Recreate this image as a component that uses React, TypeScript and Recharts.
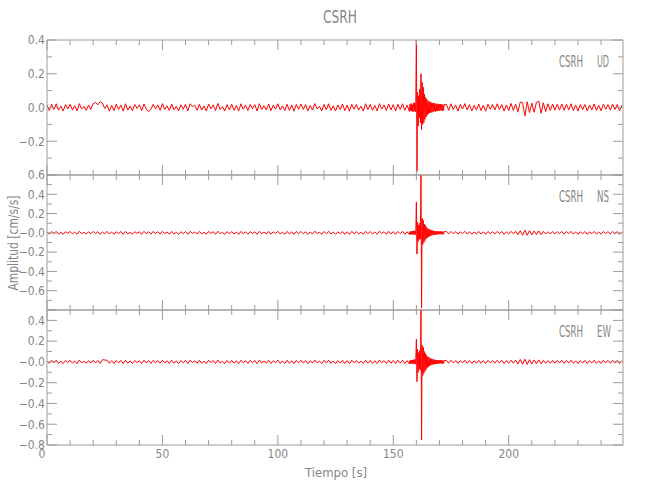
import { LineChart, Line, XAxis, YAxis } from 'recharts'

// amplitudes are in 0.001 cm/s/s
// pre: 0..157 s every 1 s, event: 157.25..172 s every 0.25 s, post: 173..249 s every 1 s
const udPre = [
  14, -18, 20, -12, 22, -16, 9, -21, 17, -8,
  19, -14, 11, -20, 23, -9, 7, -17, 15, -11,
  22, 30, 16, 34, 26, -6, 16, -22, 12, -18,
  20, -12, 14, -21, 22, -15, 8, -19, 18, -6,
  16, -19, 21, -10, -24, -12, 19, -8, 15, -17,
  23, -12, 10, -18, 21, -14, 7, -21, 16, -10,
  18, -20, 22, 6, 12, -17, 19, -15, 9, -21,
  21, -8, 15, -18, 24, -12, 5, -20, 17, -14,
  19, -17, 12, -21, 22, -10, 14, -18, 18, -7,
  17, -21, 23, -12, 10, -15, 20, -19, 13, -9,
  22, -14, 9, -18, 19, -17, 15, -22, 18, -10,
  21, -12, 17, -20, 12, -15, 23, -9, 7, -21,
  18, -13, 22, -17, 10, -20, 15, -12, 21, -18,
  14, -22, 19, -10, 17, -15, 8, -21, 22, -12,
  18, -17, 12, -20, 23, -9, 15, -18, 21, -14,
  17, -21, 19, -12, 22, -17, 14, -23,
]
const udEvent = [
  20, -18, 24, -22, 17, -25, 27, -20, 28, -26,
  32, 450, -380, 90, -110, 70, -60, 110, -90, 200,
  -130, 150, -100, 120, -90, 80, -70, 60, -55, 50,
  -45, 40, -38, 35, -32, 34, -30, 28, -29, 26,
  -25, 27, -22, 24, -25, 21, -20, 23, -21, 19,
  -20, 19, -18, 21, -17, 18, -19, 17, -18, 16,
]
const udPost = [
  19, -17, 22, -12, 15, -21, 18, -9, 23, -14,
  17, -20, 12, -15, 21, -18, 14, -22, 19, -10,
  18, -15, 22, -12, 17, -21, 15, -18, 24, -17,
  20, -26, 32, 28, -50, 34, -30, 26, -28, 30,
  38, -34, 28, -24, 22, -18, 20, -16, 19, -15,
  21, -17, 19, -15, 22, -18, 14, -21, 17, -12,
  18, -20, 15, -14, 21, -17, 12, -19, 20, -10,
  17, -15, 21, -12, 18, -20, 14,
]

const nsPre = [
  10, -13, 14, -8, 15, -13, 6, -15, 12, -5,
  14, -11, 8, -15, 16, -7, 5, -12, 11, -9,
  15, -9, 12, -14, 8, -11, 16, -12, 9, -15,
  12, -8, 14, -16, 15, -11, 6, -14, 12, -5,
  11, -15, 16, -9, 12, -14, 15, -6, 11, -12,
  16, -8, 9, -14, 15, -11, 6, -16, 12, -8,
  14, -15, 16, -5, 9, -12, 15, -11, 6, -15,
  15, -6, 12, -14, 17, -9, 5, -15, 13, -11,
  14, -12, 9, -16, 15, -8, 11, -14, 12, -6,
  12, -16, 17, -9, 8, -11, 15, -14, 11, -6,
  16, -11, 6, -14, 15, -12, 11, -16, 14, -8,
  15, -9, 12, -15, 9, -11, 17, -6, 5, -15,
  14, -9, 16, -12, 8, -15, 11, -9, 15, -14,
  11, -16, 15, -8, 12, -11, 6, -15, 16, -9,
  14, -12, 9, -15, 17, -6, 11, -14, 16, -11,
  12, -15, 15, -9, 16, -14, 11, -17,
]
const nsEvent = [
  14, -16, 18, -15, 17, -19, 20, -16, 22, -21,
  26, 320, -220, 110, -90, 80, -70, 100, -60, 620,
  -780, 150, -120, 130, -100, 90, -80, 75, -60, 55,
  -50, 45, -40, 38, -35, 32, -30, 28, -26, 24,
  -22, 21, -20, 19, -18, 18, -17, 16, -16, 15,
  -15, 14, -14, 15, -13, 14, -15, 13, -14, 12,
]
const nsPost = [
  14, -11, 15, -9, 12, -14, 11, -8, 15, -12,
  12, -14, 9, -11, 15, -12, 11, -15, 14, -8,
  12, -11, 15, -9, 14, -15, 11, -12, 16, -11,
  16, -19, 22, -24, 28, -25, 23, -21, 19, -18,
  20, -17, 15, -13, 12, -12, 14, -11, 13, -10,
  15, -12, 14, -10, 16, -13, 9, -15, 12, -9,
  14, -15, 11, -9, 15, -12, 9, -14, 15, -8,
  12, -11, 15, -9, 14, -15, 11,
]

const ewPre = [
  11, -14, 16, -9, 17, -15, 8, -16, 14, -6,
  15, -12, 9, -16, 18, -8, 6, -13, 12, -10,
  16, -11, 14, -15, 22, 18, 17, -13, 11, -16,
  14, -9, 15, -17, 16, -12, 8, -15, 14, -6,
  12, -16, 17, -10, 14, -15, 16, -8, 12, -13,
  17, -9, 11, -15, 16, -12, 8, -17, 14, -9,
  15, -16, 17, -6, 11, -13, 16, -12, 8, -16,
  16, -8, 14, -15, 18, -11, 6, -16, 15, -12,
  15, -13, 11, -17, 16, -9, 12, -15, 14, -8,
  14, -17, 18, -10, 9, -12, 16, -15, 12, -8,
  17, -12, 8, -15, 16, -14, 12, -17, 15, -9,
  16, -11, 14, -16, 11, -12, 18, -8, 6, -16,
  15, -11, 17, -14, 9, -16, 12, -11, 16, -15,
  12, -17, 16, -9, 14, -12, 8, -16, 17, -11,
  15, -14, 11, -16, 18, -8, 12, -15, 17, -12,
  14, -16, 16, -11, 17, -15, 12, -18,
]
const ewEvent = [
  15, -17, 19, -16, 18, -20, 21, -18, 23, -22,
  28, 220, -190, 120, -100, 90, -70, 110, -80, 520,
  -750, 160, -130, 140, -110, 100, -90, 80, -70, 60,
  -55, 50, -45, 42, -38, 35, -32, 30, -28, 26,
  -25, 23, -22, 21, -20, 19, -18, 18, -17, 16,
  -16, 15, -15, 16, -14, 15, -16, 14, -15, 13,
]
const ewPost = [
  15, -12, 16, -10, 13, -15, 12, -9, 16, -13,
  13, -15, 10, -12, 16, -13, 12, -16, 15, -9,
  13, -12, 16, -10, 15, -16, 12, -13, 17, -12,
  18, -21, 24, -22, 26, -24, 22, -20, 19, -18,
  20, -17, 15, -14, 13, -13, 15, -12, 14, -11,
  16, -13, 14, -11, 17, -14, 10, -16, 13, -10,
  15, -16, 12, -10, 16, -13, 10, -15, 16, -9,
  13, -12, 16, -10, 15, -16, 12,
]

const xTicks = [0, 10, 20, 30, 40, 50, 60, 70, 80, 90, 100, 110, 120, 130, 140, 150, 160, 170, 180, 190, 200, 210, 220, 230, 240]
const xLabels = [0, 50, 100, 150, 200]

const udTicks = [-0.4, -0.3, -0.2, -0.1, 0, 0.1, 0.2, 0.3, 0.4]
const udLabels = [0.4, 0.2, 0, -0.2]
const nsTicks = [-0.8, -0.7, -0.6, -0.5, -0.4, -0.3, -0.2, -0.1, 0, 0.1, 0.2, 0.3, 0.4, 0.5, 0.6]
const nsLabels = [0.6, 0.4, 0.2, 0, -0.2, -0.4, -0.6]
const ewTicks = [-0.8, -0.7, -0.6, -0.5, -0.4, -0.3, -0.2, -0.1, 0, 0.1, 0.2, 0.3, 0.4, 0.5]
const ewLabels = [0.4, 0.2, 0, -0.2, -0.4, -0.6, -0.8]

const X_MAX = 249.5
const PRE_STEP = 1
const EVENT_STEP = 0.25

const FONT = "'Liberation Sans Narrow', 'DejaVu Sans Condensed', 'Roboto Condensed', sans-serif"
const AXIS = '#9c9c9c'
const TEXT = '#868686'
const RED = '#ff0000'

const PANEL_H = 135

function buildSeries(pre: number[], event: number[], post: number[]) {
  const rows: { t: number; v: number }[] = []
  pre.forEach((v, i) => rows.push({ t: i * PRE_STEP, v: v / 1000 }))
  const evStart = (pre.length - 1) * PRE_STEP + EVENT_STEP
  event.forEach((v, i) => rows.push({ t: evStart + i * EVENT_STEP, v: v / 1000 }))
  const postStart = evStart + (event.length - 1) * EVENT_STEP + PRE_STEP
  post.forEach((v, i) => rows.push({ t: postStart + i * PRE_STEP, v: v / 1000 }))
  return rows
}

const fmtY = (v: number, negZero: boolean) => {
  if (Math.abs(v) < 1e-9) return negZero ? '\u22120.0' : '0.0'
  return (v < 0 ? '\u2212' : '') + Math.abs(v).toFixed(1)
}

const isMajorY = (v: number) => Math.round(v * 10) % 2 === 0
const hasVal = (list: number[], v: number) => list.some(l => Math.abs(l - v) < 1e-6)

const txt = { fontFamily: FONT, fill: TEXT }

interface PanelProps {
  top: number
  rows: { t: number; v: number }[]
  domain: [number, number]
  ticks: number[]
  labels: number[]
  negZero: boolean
  name: string
  comp: string
  compWidth: number
  bottom?: boolean
}

function Panel({ top, rows, domain, ticks, labels, negZero, name, comp, compWidth, bottom }: PanelProps) {
  const extra = bottom ? 30 : 0
  return (
    <div style={{ position: 'absolute', left: 0, top: top - 10 }}>
      <LineChart
        width={650}
        height={PANEL_H + 20 + extra}
        data={rows}
        margin={{ top: 9, right: 26, bottom: 9 + extra, left: 7 }}
      >
        <XAxis
          xAxisId="b"
          dataKey="t"
          type="number"
          domain={[0, X_MAX]}
          ticks={xTicks}
          interval={0}
          height={1}
          tickSize={0}
          tickMargin={0}
          tickLine={false}
          axisLine={{ stroke: AXIS }}
          allowDataOverflow
          tick={(p: any) => {
            const v = p.payload.value
            const major = v % 50 === 0
            return (
              <g key={`xb${v}`}>
                <line x1={p.x} x2={p.x} y1={p.y} y2={p.y - (major ? 10 : 5)} stroke={AXIS} />
                {bottom && hasVal(xLabels, v) && (
                  <text x={p.x - (v === 0 ? 5 : 0)} y={p.y + 13} textAnchor="middle" fontSize={12} {...txt}>{v}</text>
                )}
              </g>
            )
          }}
        />
        <XAxis
          xAxisId="t"
          orientation="top"
          dataKey="t"
          type="number"
          domain={[0, X_MAX]}
          ticks={xTicks}
          interval={0}
          height={1}
          tickSize={0}
          tickMargin={0}
          tickLine={false}
          axisLine={{ stroke: AXIS }}
          allowDataOverflow
          tick={(p: any) => {
            const v = p.payload.value
            const major = v % 50 === 0
            return <line key={`xt${v}`} x1={p.x} x2={p.x} y1={p.y} y2={p.y + (major ? 10 : 5)} stroke={AXIS} />
          }}
        />
        <YAxis
          yAxisId="l"
          type="number"
          domain={domain}
          ticks={ticks}
          interval={0}
          width={40}
          tickSize={0}
          tickMargin={0}
          tickLine={false}
          axisLine={{ stroke: AXIS }}
          allowDataOverflow
          tick={(p: any) => {
            const v = p.payload.value
            const major = isMajorY(v)
            return (
              <g key={`yl${v}`}>
                <line x1={p.x} x2={p.x + (major ? 10 : 5)} y1={p.y} y2={p.y} stroke={AXIS} />
                {hasVal(labels, v) && (
                  <text x={p.x - 2} y={p.y} dy="0.36em" textAnchor="end" fontSize={12} {...txt}>{fmtY(v, negZero)}</text>
                )}
              </g>
            )
          }}
        />
        <YAxis
          yAxisId="r"
          orientation="right"
          type="number"
          domain={domain}
          ticks={ticks}
          interval={0}
          width={1}
          tickSize={0}
          tickMargin={0}
          tickLine={false}
          axisLine={{ stroke: AXIS }}
          allowDataOverflow
          tick={(p: any) => {
            const v = p.payload.value
            const major = isMajorY(v)
            return <line key={`yr${v}`} x1={p.x} x2={p.x - (major ? 10 : 5)} y1={p.y} y2={p.y} stroke={AXIS} />
          }}
        />
        <Line
          xAxisId="b"
          yAxisId="l"
          dataKey="v"
          type="linear"
          stroke={RED}
          strokeWidth={1}
          dot={false}
          activeDot={false}
          isAnimationActive={false}
        />
      </LineChart>
      <svg width={650} height={40} style={{ position: 'absolute', left: 0, top: 10, pointerEvents: 'none' }}>
        <text x={559} y={21.5} dominantBaseline="central" fontSize={15} textLength={24} lengthAdjust="spacingAndGlyphs" {...txt}>{name}</text>
        <text x={597} y={21.5} dominantBaseline="central" fontSize={15} textLength={compWidth} lengthAdjust="spacingAndGlyphs" {...txt}>{comp}</text>
      </svg>
    </div>
  )
}

const udRows = buildSeries(udPre, udEvent, udPost)
const nsRows = buildSeries(nsPre, nsEvent, nsPost)
const ewRows = buildSeries(ewPre, ewEvent, ewPost)

export default function App() {
  return (
    <div style={{ position: 'absolute', left: 0, top: 0, width: 650, height: 500, background: '#fff' }}>
      <Panel top={40} rows={udRows} domain={[-0.4, 0.4]} ticks={udTicks} labels={udLabels} negZero={false} name="CSRH" comp="UD" compWidth={12} />
      <Panel top={175} rows={nsRows} domain={[-0.8, 0.6]} ticks={nsTicks} labels={nsLabels} negZero name="CSRH" comp="NS" compWidth={12} />
      <Panel top={310} rows={ewRows} domain={[-0.8, 0.5]} ticks={ewTicks} labels={ewLabels} negZero name="CSRH" comp="EW" compWidth={14} bottom />
      <svg width={650} height={500} style={{ position: 'absolute', left: 0, top: 0, pointerEvents: 'none' }}>
        <text x={340} y={16} dominantBaseline="central" textAnchor="middle" fontSize={18} textLength={34} lengthAdjust="spacingAndGlyphs" {...txt}>CSRH</text>
        <text x={336} y={472} dominantBaseline="central" textAnchor="middle" fontSize={13} {...txt}>Tiempo  [s]</text>
        <text
          x={0}
          y={0}
          transform="translate(13 243) rotate(-90)"
          dominantBaseline="central"
          textAnchor="middle"
          fontSize={14}
          textLength={95}
          lengthAdjust="spacingAndGlyphs"
          {...txt}
        >
          Amplitud [cm/s/s]
        </text>
      </svg>
    </div>
  )
}
